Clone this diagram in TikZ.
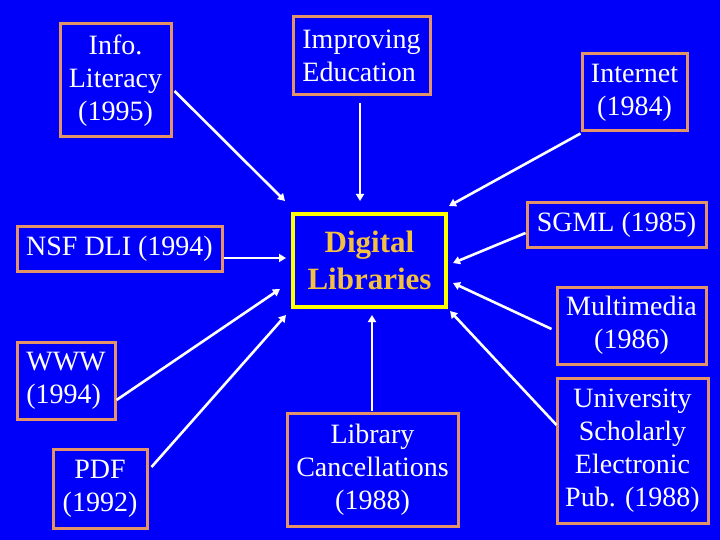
\documentclass[tikz,border=0pt]{standalone}
\usepackage{fontspec}
\setmainfont{Liberation Serif}
\usetikzlibrary{arrows.meta}
\definecolor{bg}{RGB}{0,0,250}
\definecolor{boxedge}{RGB}{228,146,104}
\definecolor{dlyellow}{RGB}{255,255,0}
\definecolor{dltext}{RGB}{244,192,64}
\tikzset{
  topic/.style={draw=boxedge, line width=3pt, fill=bg, text=white, inner sep=0pt,
    align=center, font=\fontsize{28}{33}\selectfont},
  hub/.style={draw=dlyellow, line width=4pt, fill=bg, text=dltext, inner sep=0pt,
    align=center, font=\fontsize{31}{37}\selectfont\bfseries},
  conn/.style={draw=white, line width=2.6pt, -{Triangle[length=7pt,width=8pt]}},
}
\begin{document}
\begin{tikzpicture}[x=1pt,y=-1pt]
\fill[bg] (0,0) rectangle (720,540);
\useasboundingbox (0,0) rectangle (720,540);

\node[topic, minimum width=111pt, minimum height=113pt] (info) at (115.5,80.5) {Info.\\Literacy\\(1995)};
\node[topic, minimum width=137pt, minimum height=78pt, align=left] (improv) at (361.5,56) {Improving\\Education};
\node[topic, minimum width=105pt, minimum height=77pt] (internet) at (634.5,92.5) {Internet\\(1984)};
\node[topic, minimum width=205pt, minimum height=44pt] (nsf) at (119.5,249) {NSF DLI (1994)};
\node[hub, minimum width=153pt, minimum height=93pt] (dl) at (369.5,260.5) {Digital\\Libraries};
\node[topic, minimum width=179pt, minimum height=44pt] (sgml) at (616.5,225) {SGML (1985)};
\node[topic, minimum width=149pt, minimum height=77pt] (multi) at (631.5,325.5) {Multimedia\\(1986)};
\node[topic, minimum width=98pt, minimum height=77pt, align=left] (www) at (66,380.5) {WWW\\(1994)};
\node[topic, minimum width=94pt, minimum height=79pt] (pdf) at (100,488.5) {PDF\\(1992)};
\node[topic, minimum width=171pt, minimum height=113pt] (libc) at (372.5,469.5) {Library\\Cancellations\\(1988)};
\node[topic, minimum width=151pt, minimum height=145pt] (univ) at (632.5,450.5) {University\\Scholarly\\Electronic\\Pub. (1988)};

\draw[conn] ([shift={(2,10.5)}]info.east) -- ([shift={(-6,-11)}]dl.north west);
\draw[conn] ([shift={(-1.5,7)}]improv.south) -- ([shift={(-9.5,-11)}]dl.north);
\draw[conn] ([shift={(0,1)}]internet.south west) -- ([shift={(1,-6)}]dl.north east);
\draw[conn] ([shift={(0,8)}]sgml.west) -- ([shift={(5,2.5)}]dl.east);
\draw[conn] ([shift={(-4,3.5)}]multi.west) -- ([shift={(5,22.5)}]dl.east);
\draw[conn] ([shift={(1,-25.5)}]univ.west) -- ([shift={(2,2)}]dl.south east);
\draw[conn, line width=2pt] ([shift={(-0.5,-1)}]libc.north) -- ([shift={(2.5,6)}]dl.south);
\draw[conn] ([shift={(3,-21.5)}]pdf.east) -- ([shift={(-5,6)}]dl.south west);
\draw[conn] ([shift={(0,19.5)}]www.east) -- ([shift={(-11,28.5)}]dl.west);
\draw[conn] ([shift={(0,9)}]nsf.east) -- ([shift={(-5,-2.5)}]dl.west);
\end{tikzpicture}
\end{document}
